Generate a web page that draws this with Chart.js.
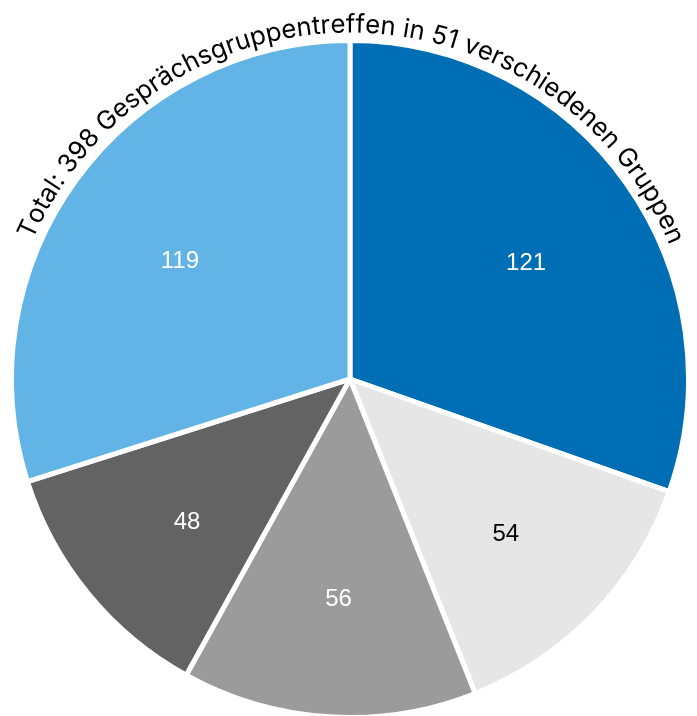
<!DOCTYPE html>
<html>
<head>
<meta charset="utf-8">
<script src="https://cdn.jsdelivr.net/npm/chart.js@4/dist/chart.umd.min.js"></script>
<style>
  html, body { margin: 0; padding: 0; background: #fff; overflow: hidden; }
  #wrap { width: 697px; height: 720px; }
</style>
</head>
<body>
<div id="wrap"><canvas id="chart"></canvas></div>
<script>
const title = 'Total: 398 Gesprächsgruppentreffen in 51 verschiedenen Gruppen';
const groups = ['Gruppe 1', 'Gruppe 2', 'Gruppe 3', 'Gruppe 4', 'Gruppe 5'];
const values = [121, 54, 56, 48, 119];

const sliceColors = ['#006eb5', '#e6e6e6', '#9b9b9b', '#636363', '#63b4e6'];
const labelColors = ['#ffffff', '#000000', '#ffffff', '#ffffff', '#ffffff'];

// text bent along the top of the pie
const arcTitle = {
    id: 'arcTitle',
    afterDraw(chart) {
        const arc = chart.getDatasetMeta(0).data[0];
        if (!arc) return;
        const ctx = chart.ctx;
        const R = arc.outerRadius + 8;
        const span = 133 * Math.PI / 180;
        const family = 'Inter, "Noto Sans", sans-serif';
        ctx.save();
        let size = 24;
        ctx.font = `${size}px ${family}`;
        size = size * (span * R) / ctx.measureText(title).width;
        ctx.font = `${size}px ${family}`;
        const chars = Array.from(title);
        const widths = chars.map(c => ctx.measureText(c).width);
        const total = widths.reduce((a, b) => a + b, 0);
        let angle = -total / (2 * R) + 0.008;
        ctx.fillStyle = '#000';
        ctx.textAlign = 'center';
        ctx.textBaseline = 'alphabetic';
        chars.forEach((c, i) => {
            const a = angle + widths[i] / (2 * R);
            ctx.save();
            ctx.translate(arc.x, arc.y);
            ctx.rotate(a);
            ctx.fillText(c, 0, -R);
            ctx.restore();
            angle += widths[i] / R;
        });
        ctx.restore();
    }
};

// value labels inside the slices
const sliceLabels = {
    id: 'sliceLabels',
    afterDatasetsDraw(chart) {
        const ctx = chart.ctx;
        const meta = chart.getDatasetMeta(0);
        ctx.save();
        ctx.font = '24px "Liberation Sans", Arial, sans-serif';
        ctx.textAlign = 'center';
        ctx.textBaseline = 'middle';
        meta.data.forEach((arc, i) => {
            const mid = (arc.startAngle + arc.endAngle) / 2;
            const r = arc.outerRadius * 0.63;
            ctx.fillStyle = labelColors[i];
            ctx.fillText(String(values[i]), arc.x + 2 + Math.cos(mid) * r, arc.y + 8 + Math.sin(mid) * r);
        });
        ctx.restore();
    }
};

new Chart(document.getElementById('chart'), {
    type: 'pie',
    data: {
        labels: groups,
        datasets: [{
            data: values,
            backgroundColor: sliceColors,
            borderColor: '#ffffff',
            borderWidth: 5,
            hoverBorderWidth: 5,
            hoverOffset: 0
        }]
    },
    options: {
        responsive: true,
        maintainAspectRatio: false,
        animation: false,
        layout: { padding: { top: 38, left: 9, right: 6, bottom: 0 } },
        plugins: {
            legend: { display: false },
            tooltip: { enabled: false }
        },
        events: []
    },
    plugins: [sliceLabels, arcTitle]
});
</script>
</body>
</html>
